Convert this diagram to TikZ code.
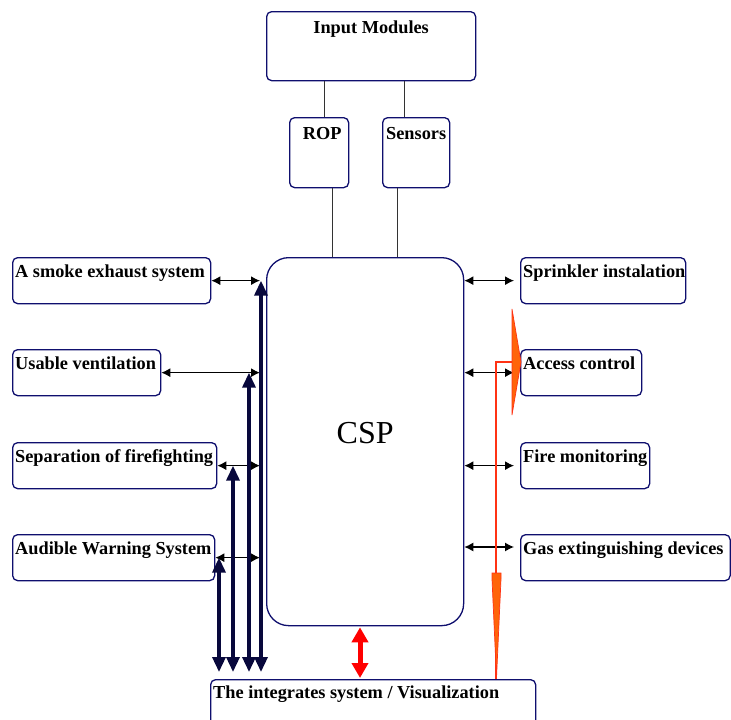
\documentclass[tikz,border=0pt]{standalone}
\usepackage{fontspec}
\setmainfont{Liberation Serif}
\usetikzlibrary{arrows.meta}
\definecolor{boxblue}{RGB}{15,15,110}
\definecolor{navyarrow}{RGB}{8,8,60}
\definecolor{orfill}{RGB}{255,100,10}
\definecolor{orline}{RGB}{255,50,20}
\tikzset{
  box/.style={draw=boxblue, line width=1.3pt, rounded corners=5pt, anchor=north west, inner sep=0pt, fill=white},
  lbl/.style={font=\fontsize{18.3}{20}\selectfont\bfseries, inner sep=0pt, anchor=base west},
  clbl/.style={lbl, anchor=base},
  thinline/.style={draw=black!80, line width=0.9pt},
  dbl/.style={black, line width=1.2pt, {Latex[length=9pt,width=9pt]}-{Latex[length=9pt,width=9pt]}},
  navyarr/.style={navyarrow, line width=3.4pt, {Triangle[length=15pt,width=13pt]}-{Triangle[length=15pt,width=13pt]}},
  redarr/.style={red, line width=5pt, {Triangle[length=15pt,width=16pt]}-{Triangle[length=15pt,width=16pt]}},
  orarrow/.style={fill=orfill, draw=orline, line width=0.7pt}
}
\begin{document}
\begin{tikzpicture}[x=1pt,y=-1pt]
\useasboundingbox (0,0) rectangle (731,720);
% boxes
\node[box, minimum width=209pt, minimum height=69pt] (inmod) at (266,11) {};
\node[box, minimum width=59pt, minimum height=70pt] (rop) at (289,117) {};
\node[box, minimum width=67pt, minimum height=70pt] (sens) at (382,117) {};
\node[box, rounded corners=22pt, minimum width=197pt, minimum height=368pt] (csp) at (266,257) {};
\node[box, minimum width=198pt, minimum height=46pt] (smoke) at (12,257) {};
\node[box, minimum width=148pt, minimum height=46pt] (vent) at (12,349) {};
\node[box, minimum width=204pt, minimum height=46pt] (sep) at (12,442) {};
\node[box, minimum width=202pt, minimum height=46pt] (aud) at (12,534) {};
\node[box, minimum width=165pt, minimum height=46pt] (sprk) at (520,257) {};
\node[box, minimum width=121pt, minimum height=46pt] (acc) at (520,349) {};
\node[box, minimum width=129pt, minimum height=46pt] (fire) at (520,442) {};
\node[box, minimum width=209.5pt, minimum height=46pt] (gas) at (520,534) {};
\node[box, minimum width=325pt, minimum height=60pt] (integ) at (210,679) {};
% labels
\node[clbl] (tinmod) at ([yshift=-22pt]inmod.north) {Input Modules};
\node[clbl] (trop) at ([xshift=3pt,yshift=-22pt]rop.north) {ROP};
\node[clbl] (tsens) at ([yshift=-22pt]sens.north) {Sensors};
\node[font=\fontsize{32}{36}\selectfont, inner sep=0pt, anchor=base] (tcsp) at ([yshift=-2pt]csp.center) {CSP};
\node[lbl] (tsmoke) at ([xshift=3pt,yshift=-20.5pt]smoke.north west) {A smoke exhaust system};
\node[lbl] (tvent) at ([xshift=3pt,yshift=-20.5pt]vent.north west) {Usable ventilation};
\node[lbl] (tsep) at ([xshift=3pt,yshift=-20.5pt]sep.north west) {Separation of firefighting};
\node[lbl] (taud) at ([xshift=3pt,yshift=-20.5pt]aud.north west) {Audible Warning System};
\node[lbl] (tsprk) at ([xshift=3pt,yshift=-20.5pt]sprk.north west) {Sprinkler instalation};
\node[lbl] (tacc) at ([xshift=3pt,yshift=-20.5pt]acc.north west) {Access control};
\node[lbl] (tfire) at ([xshift=3pt,yshift=-20.5pt]fire.north west) {Fire monitoring};
\node[lbl] (tgas) at ([xshift=3pt,yshift=-20.5pt]gas.north west) {Gas extinguishing devices};
\node[lbl] (tinteg) at ([xshift=3pt,yshift=-19pt]integ.north west) {The integrates system / Visualization};
% thin connectors
\coordinate (c1) at (324,0);
\coordinate (c2) at (404,0);
\coordinate (c3) at (332,0);
\coordinate (c4) at (397,0);
\draw[thinline] (c1 |- inmod.south) -- (c1 |- rop.north);
\draw[thinline] (c2 |- inmod.south) -- (c2 |- sens.north);
\draw[thinline] (c3 |- rop.south) -- (c3 |- csp.north);
\draw[thinline] (c4 |- sens.south) -- (c4 |- csp.north);
% left black arrows
\draw[dbl] (smoke.east) -- ([xshift=-6pt]smoke.east -| csp.west);
\draw[dbl] (vent.east) -- ([xshift=-6pt]vent.east -| csp.west);
\draw[dbl] (sep.east) -- ([xshift=-6pt]sep.east -| csp.west);
\draw[dbl] (aud.east) -- ([xshift=-6pt]aud.east -| csp.west);
% right black arrows
\draw[dbl] (sprk.west -| csp.east) -- ([xshift=-6pt]sprk.west);
\draw[dbl] (acc.west -| csp.east) -- ([xshift=-6pt]acc.west);
\draw[dbl] (fire.west -| csp.east) -- ([xshift=-6pt]fire.west);
\coordinate (gy) at (0,547);
\draw[dbl] (gy -| csp.east) -- ([xshift=-6pt]gy -| gas.west);
% navy thick arrows
\coordinate (n1) at (219,672);
\coordinate (n2) at (233,672);
\coordinate (n3) at (249,672);
\coordinate (n4) at (261,672);
\draw[navyarr] (n1) -- (n1 |- aud.east);
\draw[navyarr] (n2) -- (n2 |- sep.east);
\draw[navyarr] (n3) -- (n3 |- vent.east);
\draw[navyarr] (n4) -- (n4 |- smoke.east);
% red arrow
\coordinate (rx) at (360,0);
\draw[redarr] ([yshift=-1pt]rx |- csp.south) -- ([yshift=1pt]rx |- integ.north);
% orange connector
\coordinate (ox) at (496,0);
\coordinate (oy) at (0,362);
\draw[orline, line width=1.4pt] (ox |- integ.north) -- (ox |- oy) -- (512,362);
\filldraw[orarrow] (512,309) -- (521,362) -- (512,415) -- cycle;
\filldraw[orarrow] (492,573) -- (501,573) -- (501,579) -- (496.5,678) -- (492,579) -- cycle;
\end{tikzpicture}
\end{document}
